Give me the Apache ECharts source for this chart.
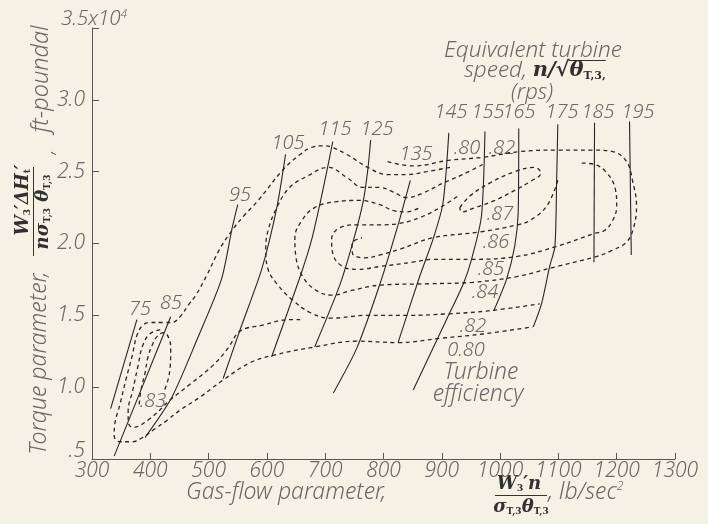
<!DOCTYPE html>
<html>
<head>
<meta charset="utf-8">
<script src="https://cdn.jsdelivr.net/npm/echarts@6/dist/echarts.min.js"></script>
<style>
  html, body { margin: 0; padding: 0; background: #f5f1e5; }
  #chart { width: 708px; height: 524px; }
</style>
</head>
<body>
<div id="chart"></div>
<script>
// Axis ranges (gas-flow parameter, lb/sec^2 ; torque parameter, x10^4 ft-poundal)
const xMin = 300, xMax = 1300, xStep = 100;
const yMin = 0.5, yMax = 3.5, yStep = 0.5;
const yTickText = { 0.5: '{lo|.5}', 1: '1.0', 1.5: '1.5', 2: '2.0', 2.5: '2.5', 3: '3.0', 3.5: '' };

// Equivalent turbine speed lines, n/sqrt(theta), rps  [gas flow, torque]
const speedNames = ['75', '85', '95', '105', '115', '125', '135', '145', '155', '165', '175', '185', '195'];
const s75  = [[377, 1.47], [332, 0.85]];
const s85  = [[435, 1.49], [386, 1.00], [338, 0.52]];
const s95  = [[550, 2.27], [540, 2.10], [522, 1.75], [480, 1.33], [437, 0.93], [391, 0.65]];
const s105 = [[632, 2.62], [617, 2.25], [591, 1.82], [554, 1.40], [525, 1.06]];
const s115 = [[713, 2.71], [697, 2.39], [677, 2.03], [657, 1.77], [608, 1.21]];
const s125 = [[778, 2.72], [773, 2.51], [765, 2.29], [749, 2.03], [725, 1.71], [682, 1.28]];
const s135 = [[846, 2.44], [825, 2.13], [794, 1.72], [754, 1.27], [714, 0.96]];
const s145 = [[912, 2.77], [902, 2.28], [885, 2.03], [862, 1.77], [825, 1.31]];
const s155 = [[974, 2.78], [968, 2.19], [951, 1.89], [937, 1.72], [908, 1.47], [851, 0.98]];
const s165 = [[1032, 2.80], [1031, 2.21], [1025, 1.98], [1011, 1.75], [989, 1.53]];
const s175 = [[1099, 2.83], [1097, 2.44], [1094, 1.98], [1085, 1.84], [1071, 1.58], [1057, 1.42]];
const s185 = [[1162, 2.84], [1161, 1.87]];
const s195 = [[1222, 2.85], [1225, 1.92]];
const speedLines = [s75, s85, s95, s105, s115, s125, s135, s145, s155, s165, s175, s185, s195];

// Turbine efficiency contours [gas flow, torque]
const eff80 = [[914, 2.53], [874, 2.50], [840, 2.48], [806, 2.48], [773, 2.53], [737, 2.62], [711, 2.67],
  [696, 2.68], [677, 2.67], [657, 2.62], [627, 2.51], [585, 2.30], [562, 2.20], [540, 2.09], [519, 1.96],
  [497, 1.78], [478, 1.64], [465, 1.57], [451, 1.49], [437, 1.45], [422, 1.45], [399, 1.45], [387, 1.43],
  [377, 1.36], [369, 1.22], [358, 1.05], [348, 0.88], [339, 0.74], [338, 0.66], [348, 0.62], [369, 0.62],
  [387, 0.65], [408, 0.71], [429, 0.77], [451, 0.84], [485, 0.93], [525, 1.05], [571, 1.17], [609, 1.22],
  [682, 1.28], [754, 1.32], [825, 1.31], [897, 1.34], [970, 1.37], [1056, 1.42]];
const eff82 = [[970, 2.55], [936, 2.48], [902, 2.42], [867, 2.35], [840, 2.32], [816, 2.36], [794, 2.39],
  [765, 2.39], [737, 2.46], [705, 2.53], [670, 2.47], [639, 2.39], [617, 2.25], [602, 2.09], [598, 1.96],
  [602, 1.82], [619, 1.71], [643, 1.61], [674, 1.52], [708, 1.48], [773, 1.50], [845, 1.50], [909, 1.51],
  [977, 1.53], [1068, 1.58]];
const eff82b = [[417, 1.40], [399, 1.37], [387, 1.29], [379, 1.15], [370, 0.98], [362, 0.83], [362, 0.76],
  [370, 0.72], [399, 0.78], [434, 0.91], [468, 1.02], [507, 1.15], [533, 1.27], [554, 1.39], [591, 1.43],
  [639, 1.47], [657, 1.47]];
const eff83 = [[381, 0.88], [384, 0.98], [391, 1.10], [396, 1.21], [403, 1.29], [411, 1.35], [423, 1.38],
  [432, 1.34], [435, 1.26], [434, 1.14], [429, 1.03], [422, 0.96]];
const eff84 = [[807, 2.57], [850, 2.54], [914, 2.58], [970, 2.60], [1034, 2.64], [1097, 2.65], [1159, 2.65],
  [1193, 2.64], [1217, 2.57], [1227, 2.44], [1234, 2.26], [1229, 2.11], [1217, 2.01], [1191, 1.95],
  [1166, 1.91], [1097, 1.84], [1029, 1.77], [953, 1.73], [879, 1.72], [794, 1.71], [742, 1.67], [713, 1.64],
  [686, 1.67], [663, 1.76], [650, 1.90], [648, 2.04], [660, 2.16], [682, 2.25], [717, 2.29], [759, 2.30],
  [794, 2.27], [816, 2.23], [840, 2.22], [862, 2.25]];
const eff85 = [[1140, 2.56], [1162, 2.55], [1181, 2.50], [1197, 2.39], [1200, 2.26], [1193, 2.16], [1179, 2.09],
  [1162, 2.07], [1097, 1.98], [1029, 1.91], [953, 1.89], [885, 1.89], [850, 1.87], [794, 1.84], [756, 1.82],
  [730, 1.84], [713, 1.93], [711, 2.03], [725, 2.11], [756, 2.13], [794, 2.13], [828, 2.14], [862, 2.18],
  [897, 2.25], [931, 2.34]];
const eff86 = [[1099, 2.44], [1080, 2.26], [1051, 2.16], [1030, 2.13], [965, 2.08], [885, 2.04], [828, 1.96],
  [794, 1.92], [768, 1.90], [747, 1.93], [746, 2.00], [763, 2.04]];
const eff87 = [[931, 2.25], [948, 2.33], [982, 2.42], [1025, 2.50], [1059, 2.53], [1070, 2.49], [1051, 2.43],
  [1025, 2.37], [991, 2.30], [957, 2.25], [934, 2.22], [931, 2.25]];
const effLines = [eff80, eff82, eff82b, eff83, eff84, eff85, eff86, eff87];

const INK = '#262626';
const LET = "'Noto Sans', 'DejaVu Sans', sans-serif";
const GREY = '#686868';
const MATH = "'DejaVu Serif', 'Liberation Serif', serif";
const lettering = size => 'italic 300 ' + size + 'px ' + LET;

const chart = echarts.init(document.getElementById('chart'), null, { renderer: 'canvas' });

const series = [];
speedLines.forEach((d, i) => {
  series.push({
    type: 'line', name: 'speed ' + speedNames[i], data: d, symbol: 'none', smooth: 0.25,
    silent: true, animation: false,
    lineStyle: { color: INK, width: 1.1 }
  });
});
effLines.forEach((d, i) => {
  series.push({
    type: 'line', name: 'efficiency ' + i, data: d, symbol: 'none', smooth: 0.4,
    silent: true, animation: false,
    lineStyle: { color: INK, width: 1.3, type: [4, 3.5] }
  });
});

function txt(x, y, text, size, extra) {
  return Object.assign({
    type: 'text', x: x, y: y, silent: true,
    style: { text: text, fill: GREY, font: lettering(size), align: 'center', verticalAlign: 'middle' }
  }, extra || {});
}
function rich(x, y, text, styles, extra, align) {
  return Object.assign({
    type: 'text', x: x, y: y, silent: true,
    style: { text: text, align: align || 'center', verticalAlign: 'middle', rich: styles }
  }, extra || {});
}
const mathStyles = {
  m: { font: 'bold italic 18px ' + MATH, fill: '#303030' },
  s: { font: 'bold 9px ' + MATH, fill: '#303030', verticalAlign: 'bottom', lineHeight: 13 }
};

// canvas text measurement for laying out the speed annotation pieces
const measureCtx = document.createElement('canvas').getContext('2d');
function textWidth(str, font) { measureCtx.font = font; return measureCtx.measureText(str).width; }

// speed labels and efficiency labels
const speedLabelPos = [[140, 309], [171, 303], [240, 195], [288, 143], [335, 129], [377, 129], [416, 154],
  [451, 112], [488, 112], [519, 112], [562, 112], [598, 112], [638, 112]];
const effLabelText = ['.80', '.82', '.87', '.86', '.85', '.84', '.82', '0.80', '.83'];
const effLabelPos = [[467, 148], [502, 148], [500, 214], [496, 242], [491, 269], [485, 292], [473, 326], [466, 350], [153, 401]];

const graphics = [];
speedNames.forEach((s, i) => graphics.push(txt(speedLabelPos[i][0], speedLabelPos[i][1], s, 20)));
effLabelText.forEach((s, i) => graphics.push(txt(effLabelPos[i][0], effLabelPos[i][1], s, 20)));

graphics.push(txt(533, 51, 'Equivalent turbine', 22.5));

// "speed, n/sqrt(theta)_T,3," laid out piece by piece so the radical bar can span theta and its subscript
(function () {
  const fa = lettering(22.5), fm = 'bold italic 21px ' + MATH, fr = 'bold 21px ' + MATH, fs = 'bold 11px ' + MATH;
  const pA = 'speed, ', pM = 'n/', pR = '√', pT = 'θ', pS = 'T,3,';
  const wA = textWidth(pA, fa), wM = textWidth(pM, fm), wR = textWidth(pR, fr), wT = textWidth(pT, fm), wS = textWidth(pS, fs);
  let x = 535 - (wA + wM + wR + wT + wS) / 2;
  const y = 71;
  const piece = (t, f, fill, dy) => ({ type: 'text', x: x, y: y + (dy || 0), silent: true,
    style: { text: t, font: f, fill: fill, align: 'left', verticalAlign: 'middle' } });
  graphics.push(piece(pA, fa, GREY)); x += wA;
  graphics.push(piece(pM, fm, '#303030')); x += wM;
  graphics.push(piece(pR, fr, '#303030')); x += wR;
  const barStart = x - 1;
  graphics.push(piece(pT, fm, '#303030')); x += wT;
  graphics.push(piece(pS, fs, '#303030', 5)); x += wS;
  graphics.push({ type: 'line', silent: true, shape: { x1: barStart, y1: 60.5, x2: x, y2: 60.5 }, style: { stroke: '#303030', lineWidth: 1.2 } });
})();

graphics.push(txt(532, 93, '(rps)', 22));
graphics.push(txt(481, 372, 'Turbine', 23));
graphics.push(txt(478, 394, 'efficiency', 23));

// 3.5 x 10^4 at the top of the torque axis
graphics.push(rich(94, 19, '{a|3.5x10}{b|4}', {
  a: { font: lettering(20.5), fill: GREY },
  b: { font: lettering(12), fill: GREY, verticalAlign: 'top', lineHeight: 20 }
}));

// torque axis title (rotated, reads bottom to top)
const rot = Math.PI / 2;
graphics.push(txt(39, 363, 'Torque parameter,', 23, { rotation: rot }));
graphics.push(rich(23, 200, '{m|W}{s|3}{m|′ΔH}{s|t}{m|′}', mathStyles, { rotation: rot }));
graphics.push({ type: 'line', silent: true, shape: { x1: 33.5, y1: 167, x2: 33.5, y2: 256 }, style: { stroke: '#333', lineWidth: 1 } });
graphics.push(rich(43, 212, '{m|nσ}{s|T,3}{m| θ}{s|T,3}', mathStyles, { rotation: rot }));
graphics.push(txt(47, 152, ',', 20, { rotation: rot }));
graphics.push(txt(41, 79, 'ft-poundal', 23.5, { rotation: rot }));

// gas-flow axis title
graphics.push(txt(286, 492, 'Gas-flow parameter,', 23));
graphics.push(rich(519, 484, '{m|W}{s|3}{m|′n}', mathStyles));
graphics.push({ type: 'line', silent: true, shape: { x1: 495, y1: 495.5, x2: 547, y2: 495.5 }, style: { stroke: '#333', lineWidth: 1 } });
graphics.push(rich(521, 507, '{m|σ}{s|T,3}{m|θ}{s|T,3}', mathStyles));
graphics.push(rich(548, 492, '{a|, lb/sec}{b|2}', {
  a: { font: lettering(23), fill: GREY },
  b: { font: lettering(12), fill: GREY, verticalAlign: 'top', lineHeight: 22 }
}, null, 'left'));

chart.setOption({
  backgroundColor: '#f5f1e5',
  animation: false,
  grid: { left: 92, right: 33, top: 28, bottom: 65, containLabel: false },
  xAxis: {
    type: 'value', min: xMin, max: xMax, interval: xStep,
    axisLine: { show: true, lineStyle: { color: '#555', width: 1 } },
    axisTick: { show: true, inside: true, length: 6, lineStyle: { color: '#555' } },
    splitLine: { show: false },
    axisLabel: { color: GREY, fontFamily: LET, fontStyle: 'italic', fontWeight: 300, fontSize: 21, margin: 2,
      formatter: v => String(v) }
  },
  yAxis: {
    type: 'value', min: yMin, max: yMax, interval: yStep,
    axisLine: { show: true, lineStyle: { color: '#555', width: 1 } },
    axisTick: { show: true, inside: true, length: 7, lineStyle: { color: '#555' } },
    splitLine: { show: false },
    axisLabel: {
      color: GREY, fontFamily: LET, fontStyle: 'italic', fontWeight: 300, fontSize: 21, margin: 7,
      formatter: v => yTickText[v] !== undefined ? yTickText[v] : String(v),
      rich: { lo: { fontFamily: LET, fontStyle: 'italic', fontWeight: 300, fontSize: 21, color: GREY, padding: [0, 0, 16, 0] } }
    }
  },
  series: series,
  graphic: graphics
});
</script>
</body>
</html>
